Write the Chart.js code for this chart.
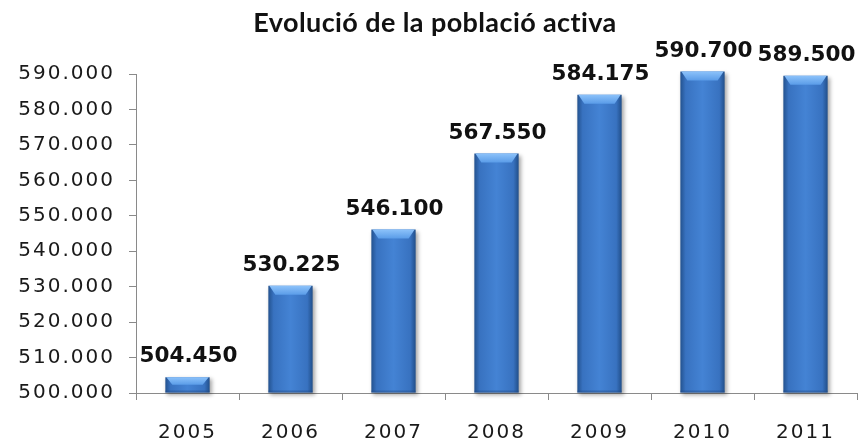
<!DOCTYPE html>
<html>
<head>
<meta charset="utf-8">
<script src="https://cdn.jsdelivr.net/npm/chart.js@4.4.1/dist/chart.umd.min.js"></script>
<style>
  html, body { margin: 0; padding: 0; background: #ffffff; }
  #wrap { width: 867px; height: 447px; }
</style>
</head>
<body>
<div id="wrap"><canvas id="c" width="867" height="447"></canvas></div>
<script>
const titleText = 'Evolució de la població activa';
const categories = ['2005', '2006', '2007', '2008', '2009', '2010', '2011'];
const values = [504450, 530225, 546100, 567550, 584175, 590700, 589500];
const yMin = 500000;
const yMax = 590000;
const yStep = 10000;

function fmt(n) {
  return String(Math.round(n)).replace(/\B(?=(\d{3})+(?!\d))/g, '.');
}

const AXIS_FONT = '"DejaVu Sans", sans-serif';
const SPACING = '2px';

const spacingPlugin = {
  id: 'spacing',
  beforeUpdate(chart) { chart.ctx.letterSpacing = SPACING; },
  beforeLayout(chart) { chart.ctx.letterSpacing = SPACING; },
  beforeDraw(chart) { chart.ctx.letterSpacing = SPACING; }
};

const barStyle = {
  id: 'barStyle',
  beforeDatasetDraw(chart) {
    const ctx = chart.ctx;
    ctx.save();
    ctx.shadowColor = 'rgba(0,0,0,0.35)';
    ctx.shadowBlur = 4;
    ctx.shadowOffsetX = 2;
    ctx.shadowOffsetY = 2;
  },
  afterDatasetDraw(chart) {
    const ctx = chart.ctx;
    ctx.restore();
    const meta = chart.getDatasetMeta(0);
    ctx.save();
    meta.data.forEach((el) => {
      const p = el.getProps(['x', 'y', 'width', 'base'], true);
      if (![p.x, p.y, p.width, p.base].every(Number.isFinite)) return;
      const w = p.width;
      const x0 = p.x - w / 2;
      const x1 = p.x + w / 2;
      const top = p.y;
      const h = Math.min(9, (p.base - top) / 2);
      const g = ctx.createLinearGradient(0, top, 0, top + h);
      g.addColorStop(0, '#8cc2fa');
      g.addColorStop(1, '#5a9ce8');
      ctx.fillStyle = g;
      ctx.beginPath();
      ctx.moveTo(x0 + 1, top);
      ctx.lineTo(x1 - 1, top);
      ctx.lineTo(x1 - 7, top + h);
      ctx.lineTo(x0 + 7, top + h);
      ctx.closePath();
      ctx.fill();
      const gb = ctx.createLinearGradient(0, p.base - 3, 0, p.base);
      gb.addColorStop(0, 'rgba(30,70,130,0)');
      gb.addColorStop(1, 'rgba(30,70,130,0.6)');
      ctx.fillStyle = gb;
      ctx.fillRect(x0, p.base - 3, w, 3);
    });
    ctx.restore();
  }
};

const dataLabels = {
  id: 'dataLabels',
  afterDatasetsDraw(chart) {
    const ctx = chart.ctx;
    const meta = chart.getDatasetMeta(0);
    ctx.save();
    ctx.letterSpacing = '0px';
    ctx.font = 'bold 21.5px "DejaVu Sans", sans-serif';
    ctx.fillStyle = '#111111';
    ctx.textAlign = 'center';
    ctx.textBaseline = 'alphabetic';
    meta.data.forEach((el, i) => {
      const p = el.getProps(['x', 'y'], true);
      ctx.fillText(fmt(values[i]), p.x + 1, p.y - 15);
    });
    ctx.restore();
  }
};

const titlePlugin = {
  id: 'customTitle',
  afterDraw(chart) {
    const ctx = chart.ctx;
    ctx.save();
    ctx.letterSpacing = '0.4px';
    ctx.font = 'bold 27px Lato, "Open Sans", sans-serif';
    ctx.fillStyle = '#111111';
    ctx.textAlign = 'center';
    ctx.textBaseline = 'alphabetic';
    ctx.fillText(titleText, 435, 32);
    ctx.restore();
  }
};

function barGradient(c) {
  const chart = c.chart;
  const xs = chart.scales.x;
  if (!xs || c.dataIndex === undefined) return '#3b78c6';
  const cx = xs.getPixelForValue(c.dataIndex);
  const w = (xs.width / categories.length) * 0.43;
  if (!Number.isFinite(cx) || !Number.isFinite(w) || w <= 0) return '#3b78c6';
  const g = chart.ctx.createLinearGradient(cx - w / 2, 0, cx + w / 2, 0);
  g.addColorStop(0, '#23528f');
  g.addColorStop(0.12, '#3872c0');
  g.addColorStop(0.5, '#4483d4');
  g.addColorStop(0.88, '#3872c0');
  g.addColorStop(1, '#214f8a');
  return g;
}

new Chart(document.getElementById('c'), {
  type: 'bar',
  data: {
    labels: categories,
    datasets: [{
      data: values,
      base: yMin,
      backgroundColor: barGradient,
      borderWidth: 0,
      barPercentage: 0.43,
      categoryPercentage: 1.0,
      clip: false
    }]
  },
  options: {
    responsive: false,
    devicePixelRatio: 1,
    animation: false,
    layout: { padding: { top: 74, right: 10, left: 0, bottom: 0 } },
    plugins: {
      legend: { display: false },
      title: { display: false },
      tooltip: { enabled: false }
    },
    scales: {
      x: {
        grid: {
          display: true,
          drawOnChartArea: false,
          drawTicks: true,
          tickLength: 7,
          color: '#8a8a8a',
          offset: true
        },
        border: { display: true, color: '#8a8a8a', width: 1 },
        ticks: {
          color: '#1a1a1a',
          font: { family: AXIS_FONT, size: 20 },
          padding: 21,
          maxRotation: 0
        },
        afterFit(s) { s.height = 54; }
      },
      y: {
        min: yMin,
        max: yMax,
        grid: {
          display: true,
          drawOnChartArea: false,
          drawTicks: true,
          tickLength: 7,
          color: '#8a8a8a'
        },
        border: { display: true, color: '#8a8a8a', width: 1 },
        ticks: {
          stepSize: yStep,
          color: '#1a1a1a',
          font: { family: AXIS_FONT, size: 20 },
          padding: 14,
          callback: (v) => fmt(v)
        },
        afterFit(s) { s.width = 136; }
      }
    }
  },
  plugins: [spacingPlugin, barStyle, dataLabels, titlePlugin]
});
</script>
</body>
</html>
